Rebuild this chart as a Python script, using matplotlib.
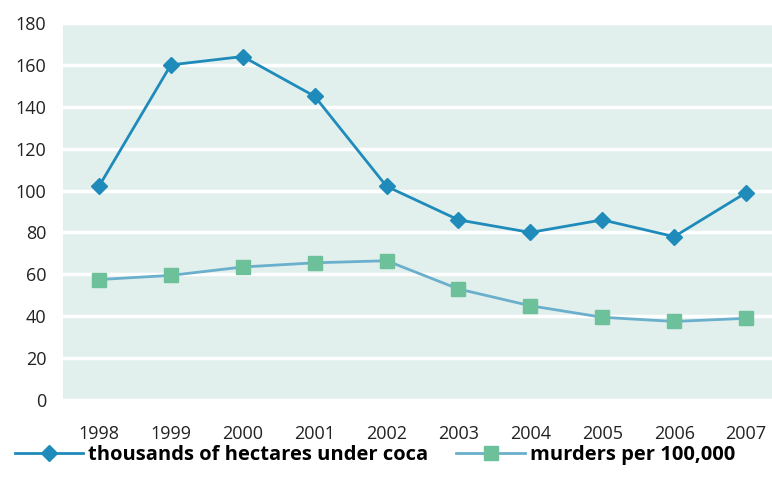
import matplotlib
matplotlib.use("Agg")
import matplotlib.pyplot as plt

plt.rcParams['font.family'] = ['Open Sans', 'DejaVu Sans']

years = ['1998', '1999', '2000', '2001', '2002', '2003', '2004', '2005', '2006', '2007']
coca = [102, 160, 164, 145, 102, 86, 80, 86, 78, 99]
murders = [57.5, 59.5, 63.5, 65.5, 66.5, 53, 45, 39.5, 37.5, 39]

fig = plt.figure(figsize=[7.72, 4.92], dpi=100)
ax = fig.add_axes([63/772, 92/492, 1 - 63/772, (400-23)/492])

x = list(range(len(years)))
ax.plot(x, coca, color='#1e8bba', lw=2, marker='D', ms=8, mfc='#1e8bba', mec='#1e8bba',
        zorder=4, label='thousands of hectares under coca')
ax.plot(x, murders, color='#6aafcc', lw=2, marker='s', ms=10, mfc='#6cc19a', mec='#6cc19a',
        zorder=3, label='murders per 100,000')

ax.set_facecolor('#e2f0ed')
ax.set_ylim(0, 180)
ax.set_xlim(-0.5, 9.36)
ax.set_yticks(range(0, 181, 20))
ax.set_xticks(x)
ax.set_xticklabels(years)
ax.grid(axis='y', color='white', lw=2.5)
ax.set_axisbelow(True)
for s in ax.spines.values():
    s.set_visible(False)
ax.tick_params(length=0, labelsize=13, colors='#222222')
ax.tick_params(axis='x', pad=18)
ax.tick_params(axis='y', pad=12)

leg = ax.legend(loc='center', bbox_to_anchor=(0.44, -0.145), ncol=2, frameon=False,
                prop={'weight': 'bold', 'size': 14.5}, handlelength=3.4, columnspacing=1.4,
                handletextpad=0.25, borderaxespad=0)

plt.savefig('out.png', dpi=100)
